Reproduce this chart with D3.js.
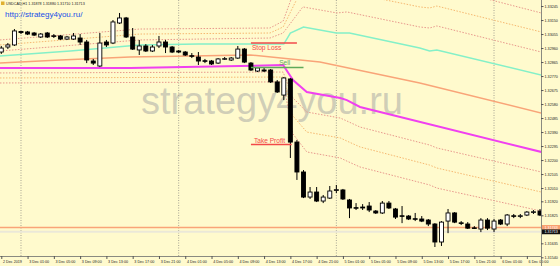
<!DOCTYPE html>
<html><head><meta charset="utf-8">
<script src="https://cdn.jsdelivr.net/npm/d3@7"></script>
<style>html,body{margin:0;padding:0;background:#fffacd;overflow:hidden}svg{display:block}</style>
</head><body><svg id="c" width="560" height="266"></svg>
<script>
// ---- DATA (USDCAD H1, bars from 2 Dec 21:00 onwards, hour offsets relative to 3 Dec 00:00) ----
const firstBarHour = -3;
const opens = [1.32933,1.32967,1.32981,1.33072,1.33069,1.33062,1.33035,1.33062,1.33043,1.33042,1.33021,1.33021,1.33028,1.33001,1.32872,1.32838,1.33001,1.32994,1.33130,1.33164,1.33035,1.32947,1.32974,1.32940,1.32974,1.33001,1.32967,1.32940,1.32933,1.32908,1.32899,1.32874,1.32872,1.32858,1.32884,1.32879,1.32892,1.32953,1.32858,1.32804,1.32811,1.32811,1.32730,1.32641,1.32750,1.32322,1.32119,1.31949,1.31983,1.31922,1.31942,1.31994,1.31997,1.31929,1.31877,1.31875,1.31888,1.31854,1.31841,1.31908,1.31868,1.31822,1.31820,1.31802,1.31800,1.31793,1.31766,1.31644,1.31786,1.31841,1.31774,1.31766,1.31740,1.31732,1.31793,1.31732,1.31793,1.31766,1.31822,1.31820,1.31827,1.31847,1.31854];
const highs = [1.32974,1.32994,1.33089,1.33076,1.33076,1.33069,1.33062,1.33069,1.33055,1.33048,1.33042,1.33062,1.33055,1.33015,1.32886,1.33062,1.33015,1.33150,1.33198,1.33171,1.33096,1.33015,1.32987,1.32981,1.33042,1.33015,1.32974,1.32947,1.32940,1.32926,1.32933,1.32886,1.32879,1.32892,1.32899,1.32899,1.32974,1.32960,1.32865,1.32831,1.32825,1.32818,1.32743,1.32763,1.32757,1.32336,1.32132,1.32017,1.32017,1.31963,1.32024,1.32031,1.32004,1.31936,1.31908,1.31901,1.31915,1.31861,1.31922,1.31922,1.31875,1.31888,1.31827,1.31841,1.31820,1.31800,1.31772,1.31786,1.31868,1.31847,1.31786,1.31779,1.31752,1.31806,1.31806,1.31800,1.31800,1.31834,1.31834,1.31834,1.31854,1.31861,1.31868];
const lows = [1.32920,1.32953,1.32974,1.33055,1.33048,1.33042,1.33028,1.33028,1.33028,1.33015,1.33015,1.33015,1.32981,1.32858,1.32845,1.32831,1.32967,1.32987,1.33123,1.33028,1.32947,1.32913,1.32933,1.32933,1.32960,1.32926,1.32926,1.32926,1.32906,1.32892,1.32845,1.32858,1.32845,1.32852,1.32879,1.32872,1.32886,1.32858,1.32804,1.32797,1.32797,1.32723,1.32655,1.32607,1.32214,1.32065,1.31942,1.31936,1.31915,1.31908,1.31936,1.31976,1.31929,1.31806,1.31861,1.31861,1.31847,1.31834,1.31834,1.31868,1.31800,1.31772,1.31793,1.31786,1.31779,1.31752,1.31610,1.31617,1.31704,1.31772,1.31759,1.31732,1.31732,1.31711,1.31725,1.31711,1.31759,1.31752,1.31806,1.31806,1.31820,1.31834,1.31820];
const closes = [1.32960,1.32981,1.33076,1.33065,1.33055,1.33048,1.33055,1.33035,1.33040,1.33021,1.33035,1.33042,1.33001,1.32879,1.32858,1.32994,1.32981,1.33137,1.33164,1.33035,1.32953,1.32974,1.32940,1.32967,1.33001,1.32967,1.32933,1.32933,1.32913,1.32904,1.32872,1.32870,1.32852,1.32886,1.32888,1.32892,1.32953,1.32865,1.32811,1.32825,1.32804,1.32730,1.32662,1.32757,1.32322,1.32119,1.31949,1.31983,1.31922,1.31949,1.31990,1.31999,1.31936,1.31875,1.31873,1.31881,1.31861,1.31841,1.31908,1.31875,1.31813,1.31818,1.31800,1.31798,1.31786,1.31766,1.31644,1.31779,1.31841,1.31779,1.31770,1.31738,1.31736,1.31793,1.31738,1.31786,1.31766,1.31827,1.31818,1.31822,1.31847,1.31849,1.31827];

// indicator lines: [hour offset, price] breakpoints
const cyanLine    = [[-3.2,1.32906],[7.5,1.32940],[18,1.32981],[27,1.32987],[40,1.32987],[41,1.33062],[43,1.33103],[48,1.33062],[50,1.33062],[60.7,1.32960],[62.2,1.32940],[63.3,1.32947],[79.2,1.32777]];
const salmonLine  = [[-3.2,1.32858],[6,1.32879],[16.6,1.32899],[34.9,1.32913],[45.5,1.32865],[60.7,1.32723],[79.2,1.32519]];
const magentaLine = [[-3.2,1.32825],[16.6,1.32825],[33.3,1.32838],[39.9,1.32845],[41.4,1.32743],[43.5,1.32662],[48.6,1.32621],[49.6,1.32607],[51.6,1.32560],[79.2,1.32255]];
const upperInner  = [[-3.2,1.32940],[18.1,1.33015],[37.9,1.33028],[39.9,1.33062],[42.9,1.33239],[48.1,1.33198],[49.6,1.33205],[60.7,1.33103],[62.2,1.33096],[63.3,1.33110],[79.2,1.32933]];
const upperMid    = [[-3.2,1.32981],[18.1,1.33055],[37.9,1.33062],[39.9,1.33103],[42.9,1.33374],[48.1,1.33334],[49.6,1.33340],[60.7,1.33239],[62.2,1.33232],[63.3,1.33245],[79.2,1.33069]];
const upperOuter  = [[-3.2,1.33015],[18.1,1.33089],[37.9,1.33096],[39.9,1.33143],[42.9,1.33510],[48.1,1.33469],[49.6,1.33476],[60.7,1.33374],[62.2,1.33367],[63.3,1.33381],[79.2,1.33198]];
const lowerInner  = [[-3.2,1.32791],[37.9,1.32797],[39.9,1.32797],[41.4,1.32621],[43.5,1.32526],[48.6,1.32485],[49.6,1.32465],[51.6,1.32424],[62.2,1.32302],[63.3,1.32282],[79.2,1.32119]];
const lowerMid    = [[-3.2,1.32757],[37.9,1.32763],[39.9,1.32763],[41.4,1.32499],[43.5,1.32390],[48.6,1.32350],[49.6,1.32329],[51.6,1.32289],[62.2,1.32166],[63.3,1.32146],[79.2,1.31983]];
const lowerOuter  = [[-3.2,1.32723],[37.9,1.32730],[39.9,1.32730],[41.4,1.32377],[43.5,1.32255],[48.6,1.32214],[49.6,1.32193],[51.6,1.32153],[62.2,1.32031],[63.3,1.32010],[79.2,1.31854]];

const levelOrange = 1.31743, levelBid = 1.31713;
const tradeStop = 1.32994, tradeSell = 1.32828, tradeTP = 1.32305;

const priceTicks = [1.33245,1.33150,1.33055,1.32960,1.32865,1.32770,1.32675,1.32580,1.32485,1.32390,1.32295,1.32200,1.32105,1.32010,1.31920,1.31825,1.31635,1.31540];
const priceTickLabels = ["1.33245","1.33150","1.33055","1.32960","1.32865","1.32770","1.32675","1.32580","1.32485","1.32390","1.32295","1.32200","1.32105","1.32010","1.31920","1.31825","1.31635","1.31540"];
const timeTickHours = [-3,1,5,9,13,17,21,25,29,33,37,41,45,49,53,57,61,65,69,73,77];
const timeTickLabels = ["2 Dec 2019","3 Dec 01:00","3 Dec 05:00","3 Dec 09:00","3 Dec 13:00","3 Dec 17:00","3 Dec 21:00","4 Dec 01:00","4 Dec 05:00","4 Dec 09:00","4 Dec 13:00","4 Dec 17:00","4 Dec 21:00","5 Dec 01:00","5 Dec 05:00","5 Dec 09:00","5 Dec 13:00","5 Dec 17:00","5 Dec 21:00","6 Dec 01:00","6 Dec 05:00"];
const daySeparators = [0,24,48,72];

// ---- DRAW ----
const W = 560, H = 266, PW = 541, PH = 256;
const FONT = "'Liberation Sans', Arial, sans-serif";
const SMALL = 3.7;
const svg = d3.select("#c");
const x = d3.scaleLinear().domain([-3.196, 79.15]).range([0, PW]);
const y = d3.scaleLinear().domain([1.31549, 1.33286]).range([PH, 0]);

svg.append("rect").attr("width", W).attr("height", H).attr("fill", "#fffacd");
svg.append("defs").append("clipPath").attr("id","clip").append("rect").attr("width",PW).attr("height",PH);
const plot = svg.append("g").attr("clip-path","url(#clip)");

// watermark
plot.append("text").attr("x", 272).attr("y", 114).attr("text-anchor","middle")
  .attr("font-family", FONT).attr("font-size", 38).attr("fill", "#b0b0a8").attr("fill-opacity", 0.6)
  .text("strategy4you.ru");

// separators
plot.selectAll(".sep").data(daySeparators).join("line")
  .attr("x1", d => x(d)).attr("x2", d => x(d)).attr("y1", 0).attr("y2", PH)
  .attr("stroke", "#a8a594").attr("stroke-width", 1).attr("stroke-dasharray", "1,1.5");

const line = d3.line().x(d => x(d[0])).y(d => y(d[1]));
const dotted = [[upperOuter,"#e8988c"],[upperMid,"#f6b870"],[upperInner,"#e8988c"],[lowerInner,"#e8988c"],[lowerMid,"#f6b870"],[lowerOuter,"#e8988c"]];
dotted.forEach(([pts,c]) => plot.append("path").attr("d", line(pts)).attr("fill","none").attr("stroke",c).attr("stroke-width",1).attr("stroke-dasharray","1.5,1.5"));
plot.append("path").attr("d", line(salmonLine)).attr("fill","none").attr("stroke","#f9a478").attr("stroke-width",1.5);
plot.append("path").attr("d", line(cyanLine)).attr("fill","none").attr("stroke","#84f0c8").attr("stroke-width",1.5);
plot.append("path").attr("d", line(magentaLine)).attr("fill","none").attr("stroke","#f040f0").attr("stroke-width",2);

// horizontal levels
plot.append("line").attr("x1",0).attr("x2",PW).attr("y1",y(levelBid)).attr("y2",y(levelBid)).attr("stroke","#ebe8d8").attr("stroke-width",2);
plot.append("line").attr("x1",0).attr("x2",PW).attr("y1",y(levelOrange)).attr("y2",y(levelOrange)).attr("stroke","#f9a478").attr("stroke-width",1.5);

// candles
const bars = opens.map((o,i) => ({h: firstBarHour + i, o, hi: highs[i], lo: lows[i], c: closes[i]}));
const g = plot.selectAll(".bar").data(bars).join("g");
g.append("line").attr("x1", d => x(d.h)).attr("x2", d => x(d.h)).attr("y1", d => y(d.hi)).attr("y2", d => y(d.lo)).attr("stroke","#000").attr("stroke-width",1);
g.append("rect").attr("x", d => x(d.h) - 2).attr("width", 4)
  .attr("y", d => y(Math.max(d.o,d.c))).attr("height", d => Math.max(0.6, Math.abs(y(d.o)-y(d.c))))
  .attr("fill", d => d.c > d.o ? "#ffffff" : "#000000").attr("stroke","#000").attr("stroke-width",0.9);

// trade objects
const red = "#f24a4a";
plot.append("line").attr("x1", x(35)).attr("x2", x(42)).attr("y1", y(tradeStop)).attr("y2", y(tradeStop)).attr("stroke", red).attr("stroke-width", 1.5);
plot.append("text").attr("x", x(35) + 1).attr("y", y(tradeStop) + 6.5).attr("font-family",FONT).attr("font-size",6.6).attr("fill",red).text("Stop Loss");
plot.append("line").attr("x1", x(35)).attr("x2", x(43)).attr("y1", y(tradeSell)).attr("y2", y(tradeSell)).attr("stroke", "#5faa5a").attr("stroke-width", 1.5);
plot.append("text").attr("x", x(39.3)).attr("y", y(tradeSell) - 2.5).attr("font-family",FONT).attr("font-size",6.6).attr("fill","#5faa5a").text("Sell");
plot.append("line").attr("x1", x(35)).attr("x2", x(41.2)).attr("y1", y(tradeTP)).attr("y2", y(tradeTP)).attr("stroke", red).attr("stroke-width", 1.5);
plot.append("text").attr("x", x(35) + 3).attr("y", y(tradeTP) - 1.5).attr("font-family",FONT).attr("font-size",6.6).attr("fill",red).text("Take Profit");

// header texts
svg.append("text").attr("x", 6).attr("y", 4.8).attr("font-family",FONT).attr("font-size",SMALL).attr("fill","#222").text("USDCAD,H1  1.31878 1.31880 1.31710 1.31713");
svg.append("rect").attr("x",1).attr("y",1.5).attr("width",3.5).attr("height",3.5).attr("fill","#e0b030");
svg.append("text").attr("x", 5).attr("y", 17).attr("font-family",FONT).attr("font-size",8).attr("fill","#2050e8").text("http://strategy4you.ru/");

// axes
const ax = svg.append("g").attr("transform", `translate(0,${PH})`)
  .call(d3.axisBottom(x).tickValues(timeTickHours).tickFormat((d,i) => timeTickLabels[i]).tickSize(3).tickSizeOuter(0).tickPadding(1.5));
ax.select(".domain").attr("stroke","#8a8a80").attr("d", `M0,0.5H${PW}`);
ax.selectAll(".tick line").attr("stroke","#555");
ax.selectAll(".tick text").attr("text-anchor","start").attr("x",1.2).attr("font-family",FONT).attr("font-size",SMALL).attr("fill","#222");

const ay = svg.append("g").attr("transform", `translate(${PW},0)`)
  .call(d3.axisRight(y).tickValues(priceTicks).tickFormat((d,i) => priceTickLabels[i]).tickSize(2.5).tickSizeOuter(0).tickPadding(1));
ay.select(".domain").attr("stroke","#8a8a80").attr("d", `M0.5,0V${H}`);
ay.selectAll(".tick line").attr("stroke","#555");
ay.selectAll(".tick text").attr("font-family",FONT).attr("font-size",SMALL).attr("fill","#222");

// price tags
[[levelOrange,"#f9a070"],[levelBid,"#111111"]].forEach(([p,c]) => {
  const yy = y(p);
  svg.append("rect").attr("x", PW+1).attr("y", yy-2.4).attr("width", W-PW-1).attr("height", 4.8).attr("fill", c);
  svg.append("text").attr("x", PW+3.5).attr("y", yy+1.4).attr("font-family",FONT).attr("font-size",SMALL).attr("fill","#fff").text(p.toFixed(5));
});
</script></body></html>
